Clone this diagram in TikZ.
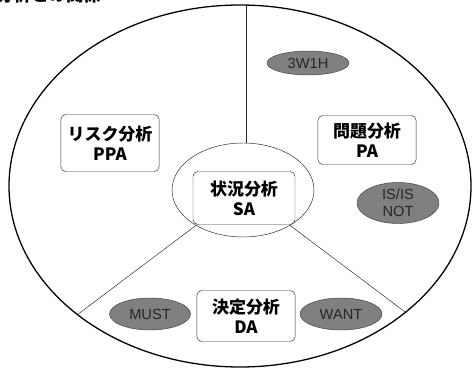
\documentclass[tikz,border=0pt]{standalone}
\usepackage{fontspec}
\setmainfont{Liberation Sans}
\newfontfamily\jpfont{Noto Sans CJK JP}
\usetikzlibrary{shapes.geometric}
\begin{document}
\begin{tikzpicture}[x=0.03cm,y=-0.03cm,
    method/.style={draw=black!80,rounded corners=0.15cm,fill=white,align=center,
        font=\jpfont\bfseries\fontsize{14.5}{17}\selectfont,
        minimum width=2.95cm,inner sep=1pt},
    tool/.style={shape=ellipse,draw=black!75,fill=black!50,align=center,
        text=black!85,font=\fontsize{12.5}{14.5}\selectfont,inner sep=0pt}]
    \useasboundingbox (0,0) rectangle (473,369);

    % title, cut off at the top edge
    \node[anchor=base west,inner sep=0pt,font=\jpfont\bfseries\fontsize{15}{17}\selectfont] (title) at (-4,2) {分析との関係};

    % outer ellipse and its three parts
    \coordinate (O) at (240,186);
    \begin{scope}
        \clip (O) ellipse [x radius=231, y radius=181];
        \draw[black!85] (246,190) -- (246,-10);
        \draw[black!85] (243,190) -- ++(-279,210);
        \draw[black!85] (243,190) -- ++(279,210);
    \end{scope}
    \draw[line width=1.1pt] (O) ellipse [x radius=231, y radius=181];
    \draw[black!85,fill=white] (243,190) ellipse [x radius=71, y radius=47];

    \node[method,minimum height=1.71cm] (PPA) at (110,143) {リスク分析\\PPA};
    \node[method,minimum height=1.47cm] (PA) at (367,140) {問題分析\\PA};
    \node[method,minimum height=1.59cm,minimum width=3.06cm] (SA) at (244,198) {状況分析\\SA};
    \node[method,minimum height=1.53cm] (DA) at (246,316) {決定分析\\DA};

    \node[tool,minimum width=2.46cm,minimum height=0.72cm] (W1H) at (308,63) {3W1H};
    \node[tool,minimum width=2.46cm,minimum height=1.23cm] (ISNOT) at (398,203) {IS/IS\\NOT};
    \node[tool,minimum width=2.43cm,minimum height=0.96cm] (MUST) at (150,314) {MUST};
    \node[tool,minimum width=2.46cm,minimum height=0.96cm] (WANT) at (341,314) {WANT};
\end{tikzpicture}
\end{document}
